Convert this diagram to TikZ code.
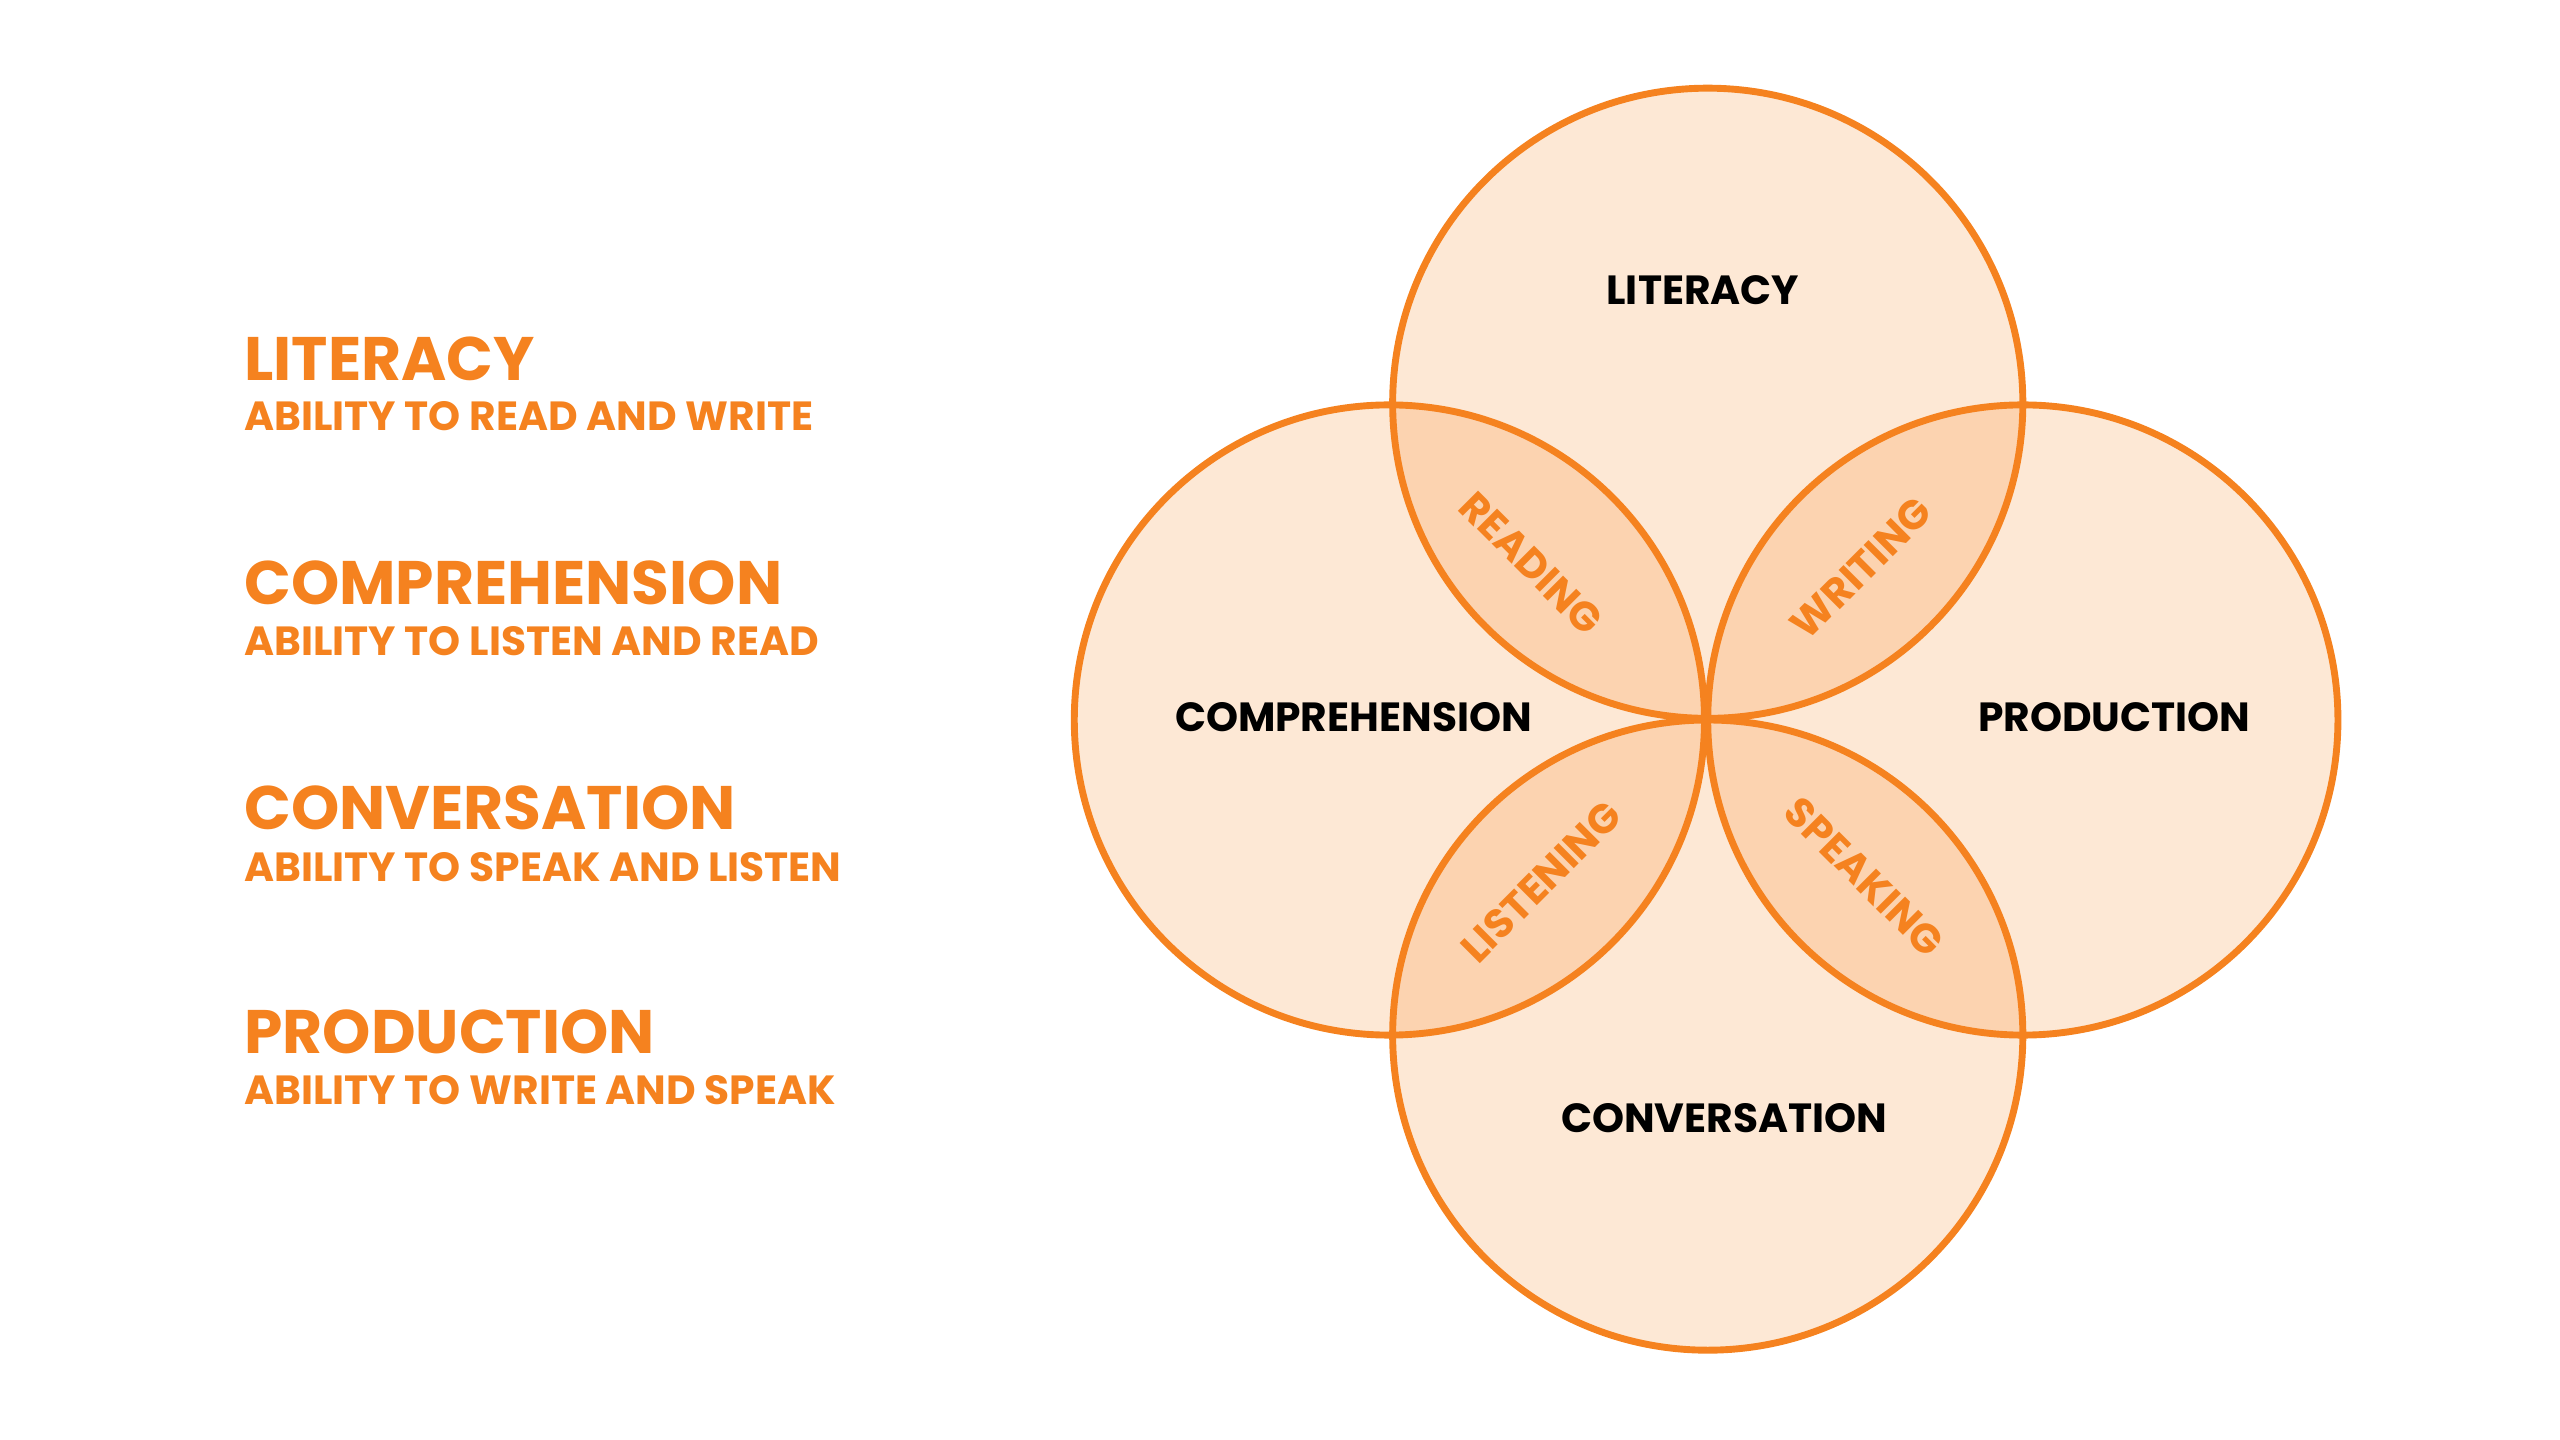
\documentclass[tikz,border=0pt]{standalone}
\usepackage{fontspec}
\setmainfont{Poppins}
\definecolor{org}{HTML}{F5821F}
\definecolor{lite}{HTML}{FDE8D5}
\definecolor{dark}{HTML}{FCD3B0}
\begin{document}
\begin{tikzpicture}[x=0.01cm,y=-0.01cm,
  circ/.style={draw=org,line width=1.2pt},
  lab/.style={font=\bfseries\fontsize{7.1}{8}\selectfont,text=black},
  ov/.style={font=\bfseries\fontsize{7.1}{8}\selectfont,text=org,inner sep=0},
  head/.style={anchor=west,font=\bfseries\fontsize{10.7}{12}\selectfont,text=org,inner sep=0},
  sub/.style={anchor=west,font=\bfseries\fontsize{7.1}{8}\selectfont,text=org,inner sep=0}]
\useasboundingbox (0,0) rectangle (1568,882);
\def\R{193}
\coordinate (T) at (1046,247);
\coordinate (L) at (851,441);
\coordinate (Rc) at (1239,441);
\coordinate (B) at (1046,634);
\foreach \c in {T,L,Rc,B} \fill[lite] (\c) circle (\R);
\foreach \a/\b in {T/L,T/Rc,B/L,B/Rc}{
  \begin{scope}\clip (\a) circle (\R); \fill[dark] (\b) circle (\R);\end{scope}}
\foreach \c in {T,L,Rc,B} \draw[circ] (\c) circle (\R);
\node[lab] (lit) at (1043,178) {LITERACY};
\node[lab] (com) at (829,439) {COMPREHENSION};
\node[lab] (pro) at (1295,439) {PRODUCTION};
\node[lab] (con) at (1056,685) {CONVERSATION};
\node[ov,rotate=-45] (rea) at (938,345) {READING};
\node[ov,rotate=45] (wri) at (1140,348) {WRITING};
\node[ov,rotate=45] (lis) at (944,540) {LISTENING};
\node[ov,rotate=-45] (spe) at (1142,537) {SPEAKING};
\node[head] (h1) at (149,220) {LITERACY};
\node[sub] (s1) at (149,255) {ABILITY TO READ AND WRITE};
\node[head] (h2) at (149,357) {COMPREHENSION};
\node[sub] (s2) at (149,393) {ABILITY TO LISTEN AND READ};
\node[head] (h3) at (149,495) {CONVERSATION};
\node[sub] (s3) at (149,531) {ABILITY TO SPEAK AND LISTEN};
\node[head] (h4) at (149,632) {PRODUCTION};
\node[sub] (s4) at (149,668) {ABILITY TO WRITE AND SPEAK};
\end{tikzpicture}
\end{document}
